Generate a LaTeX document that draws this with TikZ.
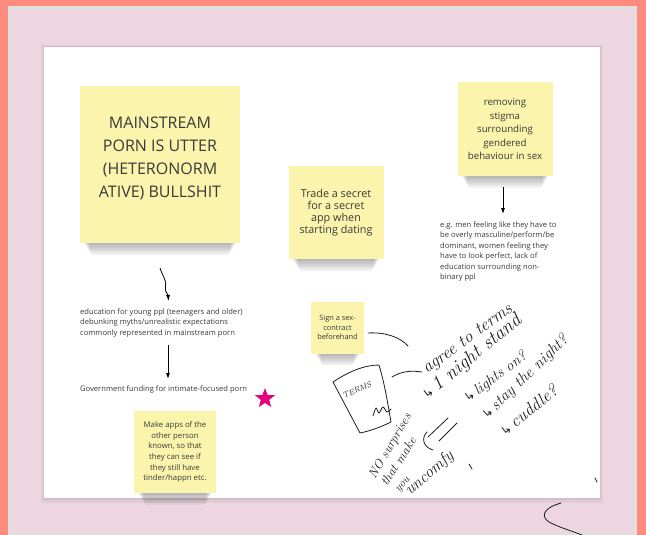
\documentclass[tikz,border=0pt]{standalone}
\usepackage{fontspec}
\setsansfont{Open Sans}
\newfontfamily\dejavu{DejaVu Sans}
\usetikzlibrary{shapes.geometric,arrows.meta,calc}
\definecolor{salmon}{HTML}{FF8A7D}
\definecolor{panelpink}{HTML}{EED6E0}
\definecolor{panelgrey}{HTML}{E2DEE0}
\definecolor{stickyyellow}{HTML}{FBF4AC}
\definecolor{inkgrey}{HTML}{3A3A3A}
\definecolor{handink}{HTML}{1E1E1E}
\definecolor{starpink}{HTML}{E5007E}
\pgfdeclarelayer{back}
\pgfdeclarelayer{shade}
\pgfsetlayers{back,shade,main}
\newcommand{\notesh}[1]{%
  \begin{pgfonlayer}{shade}
  \foreach \i in {1,...,7}{%
    \fill[black,opacity=0.045,rounded corners=4pt]
      ($(#1.south west)+(3+\i,-14)$) rectangle ($(#1.south east)+(-3-\i,1.7*\i)$);}
  \end{pgfonlayer}}
\newcommand{\harr}{{\dejavu\upshape\fontsize{12}{12}\selectfont ↳}}
\newcommand{\handsz}[1]{\itshape\fontsize{#1}{#1}\selectfont}
\begin{document}
\begin{tikzpicture}[x=1pt,y=-1pt,
  sticky/.style={fill=stickyyellow, inner sep=0pt, align=center, text=inkgrey},
  stickytext/.style={inner sep=0pt, align=center, text=inkgrey},
  freetext/.style={inner sep=0pt, align=left, text=inkgrey, font=\sffamily\fontsize{7.6}{10.5}\selectfont},
  hand/.style={inner sep=0pt, text=handink, anchor=base west},
  ink/.style={draw=handink, line width=0.8pt, line cap=round, line join=round},
  flow/.style={draw=black, line width=0.8pt, -{Latex[length=6pt,width=4pt]}}]
\begin{pgfonlayer}{back}
  \fill[salmon] (0,0) rectangle (646,535);
  \fill[panelgrey] (8,6) rectangle (637,535);
  \fill[panelpink] (12,10) rectangle (633,532);
  \fill[black,opacity=0.05] (41,45) rectangle (603,503);
  \fill[black,opacity=0.06] (43,46) rectangle (601,500);
  \fill[white] (44,47) rectangle (600,498);
\end{pgfonlayer}
\useasboundingbox (0,0) rectangle (646,535);

% sticky notes
\node[sticky, minimum width=160pt, minimum height=157pt] (main) at (160,164.5) {};
\node[stickytext, font=\sffamily\fontsize{16}{23}\selectfont] (maintext) at (160,158) {MAINSTREAM\\PORN IS UTTER\\(HETERONORM\\ATIVE) BULLSHIT};
\notesh{main}

\node[sticky, minimum width=95pt, minimum height=93pt, font=\sffamily\fontsize{10.8}{12}\selectfont] (trade) at (336,212.5) {Trade a secret\\for a secret\\app when\\starting dating};
\notesh{trade}

\node[sticky, minimum width=95pt, minimum height=94pt, font=\sffamily\fontsize{9.7}{13.5}\selectfont] (stigma) at (505,129) {removing\\stigma\\surrounding\\gendered\\behaviour in sex};
\notesh{stigma}

\node[sticky, minimum width=53pt, minimum height=52pt, font=\sffamily\fontsize{7.4}{9.5}\selectfont] (sign) at (337.5,327.5) {Sign a sex-\\contract\\beforehand};
\notesh{sign}

\node[sticky, minimum width=82pt, minimum height=82pt, font=\sffamily\fontsize{7.8}{10.7}\selectfont] (apps) at (175,452) {Make apps of the\\other person\\known, so that\\they can see if\\they still have\\tinder/happn etc.};
\notesh{apps}

% free texts
\node[freetext, anchor=north west] (edu) at (80,308) {education for young ppl (teenagers and older)\\debunking myths/unrealistic expectations\\commonly represented in mainstream porn};
\node[freetext, anchor=west] (gov) at (80,390) {Government funding for intimate-focused porn};
\node[star, star points=5, star point ratio=2.4, fill=starpink, minimum size=21pt, inner sep=0pt] (star) at (265,398.5) {};
\node[freetext, anchor=north west] (eg) at (440,221) {e.g. men feeling like they have to\\be overly masculine/perform/be\\dominant, women feeling they\\have to look perfect, lack of\\education surrounding non-\\binary ppl};

% flow arrows
\coordinate (a1s) at (160,268);
\coordinate (a1e) at (168.5,301);
\coordinate (a2s) at (168,345);
\coordinate (a2e) at (168,379);
\coordinate (a3s) at (503,187);
\coordinate (a3e) at (503,214);
\draw[flow] (a1s) .. controls (163,277) and (167,281) .. (165.5,287) .. controls (164.5,292) and (168,294) .. (a1e);
\draw[flow] (a2s) -- (a2e);
\draw[flow] (a3s) -- (a3e);

% handwriting
\node[hand, rotate=36, font=\handsz{17.5}] (h1) at (427,374) {agree to terms};
\node[hand, rotate=39, font=\handsz{19.5}] (h2) at (427,400) {\harr\,1 night stand};
\node[hand, rotate=37, font=\handsz{15}] (h3) at (468,403) {\harr\,lights on?};
\node[hand, rotate=44, font=\handsz{16}] (h4) at (487,420) {\harr\,stay the night?};
\node[hand, rotate=39, font=\handsz{17.5}] (h5) at (505,437) {\harr\,cuddle?};
\node[hand, rotate=60, font=\handsz{13}] (h6) at (375,480) {NO surprises};
\node[hand, rotate=57, font=\handsz{13}] (h7) at (387,487) {that make};
\node[hand, rotate=50, font=\handsz{11.5}] (h8) at (399,493) {you};
\node[hand, rotate=41, font=\handsz{16.5}] (h9) at (410,496) {uncomfy};

% cup drawing
\coordinate (cupTL) at (333,382);
\coordinate (cupTR) at (379,365);
\coordinate (cupBR) at (391,422);
\coordinate (cupBL) at (360,433);
\draw[ink] (cupTL) .. controls (348,372) and (364,365) .. (cupTR) .. controls (385,385) and (388,405) .. (cupBR) .. controls (381,427) and (370,431) .. (cupBL) -- cycle;
\node[inner sep=0pt, text=handink, rotate=25, font=\handsz{8}] (terms) at (357,390) {TERMS};
\draw[ink] plot[smooth] coordinates {(373,416) (376,408) (379,413) (383,407) (387,412) (391,409)};

% hand connectors
\coordinate (l1s) at (368,333);
\coordinate (l1e) at (408,346);
\draw[ink] (l1s) .. controls (385,332) and (400,337) .. (l1e);
\coordinate (l2s) at (392,377);
\coordinate (l2e) at (422,372);
\draw[ink] (l2s) .. controls (400,372) and (410,370) .. (l2e);
\coordinate (d1s) at (428,437);
\coordinate (d1e) at (448,418);
\coordinate (d2s) at (439,441);
\coordinate (d2e) at (457,423);
\draw[ink] (d1s) -- (d1e);
\draw[ink] (d2s) -- (d2e);
\coordinate (b1s) at (427,432);
\coordinate (b1e) at (433,450);
\draw[ink] (b1s) .. controls (421,438) and (423,447) .. (b1e);
\coordinate (t1s) at (469,464);
\coordinate (t1e) at (472,469);
\draw[ink] (t1s) -- (t1e);
\coordinate (t2s) at (595,478);
\coordinate (t2e) at (597,482);
\draw[ink] (t2s) -- (t2e);
\coordinate (c1s) at (561,503);
\coordinate (c1e) at (582,535);
\draw[ink] (c1s) -- (555,505) .. controls (545,509) and (540,516) .. (549,522) .. controls (558,527) and (572,531) .. (c1e);
\end{tikzpicture}
\end{document}
